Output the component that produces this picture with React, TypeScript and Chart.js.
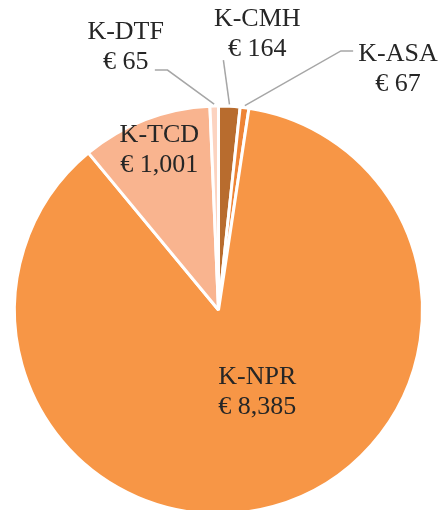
import React, { useEffect, useRef } from "react";
import { Chart, registerables } from "chart.js";

Chart.register(...registerables);

const categories = ["K-CMH", "K-ASA", "K-NPR", "K-TCD", "K-DTF"];
const amounts = [164, 67, 8385, 1001, 65];
const valueLabels = ["€ 164", "€ 67", "€ 8,385", "€ 1,001", "€ 65"];
const sliceColors = ["#B86C2E", "#EE8436", "#F79646", "#F9B48F", "#FCD3C0"];

// label placement, in units of the pie radius relative to its centre
const labelLayout = [
  { fx: 0.19, fy: -1.35, leader: [[0.024, -1.225]] },
  { fx: 0.88, fy: -1.18, leader: [[0.66, -1.27], [0.6, -1.27]] },
  { fx: 0.19, fy: 0.405, leader: null },
  { fx: -0.29, fy: -0.785, leader: null },
  { fx: -0.455, fy: -1.29, leader: [[-0.312, -1.176], [-0.25, -1.176]] },
];

const labelPlugin = {
  id: "pieLabels",
  afterDatasetsDraw(chart: any) {
    const ctx = chart.ctx;
    const meta = chart.getDatasetMeta(0);
    ctx.save();
    meta.data.forEach((arc: any, i: number) => {
      const { x, y, outerRadius, startAngle, endAngle } = arc.getProps(
        ["x", "y", "outerRadius", "startAngle", "endAngle"],
        true
      );
      const R = outerRadius;
      const lay = labelLayout[i];
      if (lay.leader) {
        const mid = (startAngle + endAngle) / 2;
        const ex = x + Math.cos(mid) * (R + 2);
        const ey = y + Math.sin(mid) * (R + 2);
        ctx.beginPath();
        ctx.strokeStyle = "#A6A6A6";
        ctx.lineWidth = 1.5;
        lay.leader.forEach((p: number[], k: number) => {
          const px = x + p[0] * R;
          const py = y + p[1] * R;
          if (k === 0) ctx.moveTo(px, py);
          else ctx.lineTo(px, py);
        });
        ctx.lineTo(ex, ey);
        ctx.stroke();
      }
      const lx = x + lay.fx * R;
      const ly = y + lay.fy * R;
      ctx.fillStyle = "#262626";
      ctx.font = '26px "Liberation Serif", "Times New Roman", serif';
      ctx.textAlign = "center";
      ctx.textBaseline = "middle";
      ctx.fillText(categories[i], lx, ly - 15);
      ctx.fillText(valueLabels[i], lx, ly + 15);
    });
    ctx.restore();
  },
};

export default function App() {
  const ref = useRef<HTMLCanvasElement>(null);
  useEffect(() => {
    document.body.style.margin = "0";
    const chart = new Chart(ref.current!, {
      type: "pie",
      data: {
        labels: categories,
        datasets: [
          {
            data: amounts,
            backgroundColor: sliceColors,
            borderColor: "#FFFFFF",
            borderWidth: 3,
          },
        ],
      },
      options: {
        responsive: false,
        animation: false,
        layout: { padding: { left: 13, right: 14, top: 104.5, bottom: 6.5 } },
        plugins: {
          legend: { display: false },
          tooltip: { enabled: false },
        },
      },
      plugins: [labelPlugin],
    });
    return () => chart.destroy();
  }, []);
  return (
    <div style={{ position: "absolute", left: 0, top: 0, width: 438, height: 510, overflow: "hidden", background: "#fff" }}>
      <canvas ref={ref} width={438} height={522} style={{ display: "block" }} />
    </div>
  );
}
